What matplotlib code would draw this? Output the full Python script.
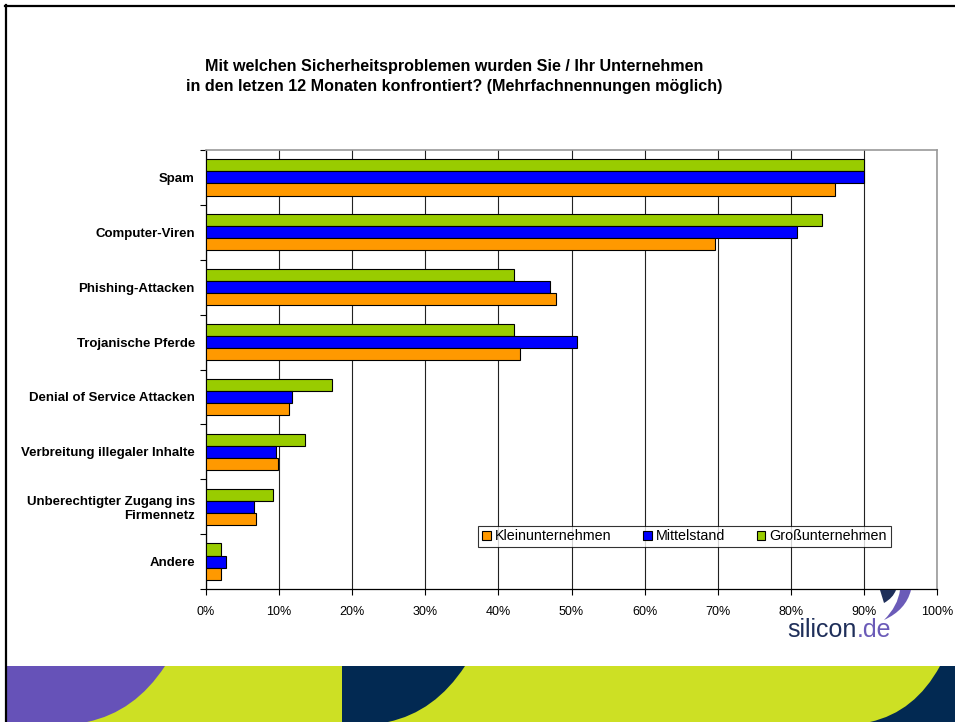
import matplotlib.pyplot as plt
import numpy as np
from matplotlib.path import Path
from matplotlib.patches import PathPatch, Rectangle
from matplotlib.lines import Line2D

plt.rcParams['font.family'] = ['Liberation Sans', 'DejaVu Sans']

# data (share of respondents)
categories = ["Spam", "Computer-Viren", "Phishing-Attacken", "Trojanische Pferde",
              "Denial of Service Attacken", "Verbreitung illegaler Inhalte",
              "Unberechtigter Zugang ins\nFirmennetz", "Andere"]
klein = [0.86, 0.696, 0.479, 0.43, 0.113, 0.099, 0.069, 0.02]
mittel = [0.90, 0.809, 0.470, 0.507, 0.118, 0.096, 0.065, 0.027]
gross = [0.90, 0.843, 0.421, 0.421, 0.173, 0.136, 0.091, 0.02]
series_names = ["Kleinunternehmen", "Mittelstand", "Großunternehmen"]
series_colors = ["#FF9900", "#0000FF", "#99CC00"]
xticks = np.arange(0, 1.01, 0.1)

W, H = 955, 722
fig = plt.figure(figsize=(W / 100, H / 100), dpi=100)
fig.patch.set_facecolor("white")


def fx(x):
    return x / W


def fy(y):
    return 1 - y / H


ax = fig.add_axes([fx(206), fy(589), fx(937) - fx(206), fy(150) - fy(589)])

y = np.arange(len(categories))
bh = 0.22
for vals, off, col in [(gross, -bh, series_colors[2]), (mittel, 0, series_colors[1]),
                       (klein, bh, series_colors[0])]:
    ax.barh(y + off, vals, height=bh, color=col, edgecolor="black", linewidth=0.8, zorder=3)

ax.set_xlim(0, 1)
ax.set_ylim(len(categories) - 0.5, -0.5)
ax.set_xticks(xticks)
ax.set_xticklabels([f"{int(round(t * 100))}%" for t in xticks], fontsize=9)
ax.tick_params(axis="x", direction="out", length=4, width=0.8, pad=8)
ax.xaxis.grid(True, color="#222222", linewidth=0.8, zorder=0)

# ticks at the category boundaries, labels at the centres
ax.set_yticks(np.arange(-0.5, len(categories), 1.0))
ax.set_yticklabels([])
ax.tick_params(axis="y", which="major", direction="out", length=4, width=0.8)
ax.set_yticks(y, minor=True)
ax.set_yticklabels(categories, minor=True, fontsize=9.5, fontweight="bold", ha="right")
ax.tick_params(axis="y", which="minor", length=0, pad=8)

for s in ["top", "right"]:
    ax.spines[s].set_color("#999999")
    ax.spines[s].set_linewidth(1.2)
ax.spines["left"].set_linewidth(0.9)
ax.spines["bottom"].set_linewidth(0.9)

handles = [Rectangle((0, 0), 1, 1, facecolor=c, edgecolor="black", linewidth=0.8)
           for c in series_colors]
leg = ax.legend(handles, series_names, ncol=3, loc="center",
                bbox_to_anchor=(fx(684.5), fy(536.5)), bbox_transform=fig.transFigure,
                fontsize=10.3, frameon=True, fancybox=False, handlelength=0.6,
                handleheight=0.6, handletextpad=0.3, columnspacing=2.2,
                borderpad=0.25, borderaxespad=0)
leg.get_frame().set_edgecolor("black")
leg.get_frame().set_linewidth(0.8)

fig.text(fx(454), fy(67), "Mit welchen Sicherheitsproblemen wurden Sie / Ihr Unternehmen",
         ha="center", va="center", fontsize=11.6, fontweight="bold")
fig.text(fx(454), fy(87), "in den letzen 12 Monaten konfrontiert? (Mehrfachnennungen möglich)",
         ha="center", va="center", fontsize=11.6, fontweight="bold")


def fig_patch(verts, codes, color, z=0):
    v = [(fx(a), fy(b)) for a, b in verts]
    fig.patches.append(PathPatch(Path(v, codes), facecolor=color, edgecolor="none",
                                 transform=fig.transFigure, figure=fig, zorder=z))


lime, purple, navy = "#cde024", "#6652b8", "#022952"
logo_navy, logo_purple = "#1f2f5a", "#6b5bb8"

# logo swoosh and text
C4 = Path.CURVE3
fig_patch([(880, 590), (896, 590), (893, 598), (884, 603), (880, 590)],
          [Path.MOVETO, Path.LINETO, C4, C4, Path.CLOSEPOLY], logo_navy)
fig_patch([(900, 590), (911, 590), (906, 610), (884, 620), (898, 606), (900, 590)],
          [Path.MOVETO, Path.LINETO, C4, C4, C4, C4], logo_purple)
t = fig.text(fx(787), fy(637), "silicon", ha="left", va="baseline", fontsize=18,
             color=logo_navy)
fig.add_artist(plt.Annotation(".de", xy=(1, 0), xycoords=t, va="bottom", ha="left",
                              fontsize=18, color=logo_purple))

# decorative band at the bottom
fig_patch([(7, 666), (955, 666), (955, 722), (7, 722), (7, 666)],
          [Path.MOVETO, Path.LINETO, Path.LINETO, Path.LINETO, Path.CLOSEPOLY], lime)
fig_patch([(7, 666), (165, 666), (135, 712), (87, 722), (7, 722), (7, 666)],
          [Path.MOVETO, Path.LINETO, C4, C4, Path.LINETO, Path.CLOSEPOLY], purple)
fig_patch([(342, 666), (465, 666), (435, 712), (388, 722), (342, 722), (342, 666)],
          [Path.MOVETO, Path.LINETO, C4, C4, Path.LINETO, Path.CLOSEPOLY], navy)
fig_patch([(940, 666), (955, 666), (955, 722), (870, 722), (915, 712), (940, 666)],
          [Path.MOVETO, Path.LINETO, Path.LINETO, Path.LINETO, C4, C4], navy)

# slide border
fig.lines.append(Line2D([fx(5), 1], [fy(6), fy(6)], color="black", linewidth=1.6,
                        transform=fig.transFigure))
fig.lines.append(Line2D([fx(6), fx(6)], [fy(5), 0], color="black", linewidth=1.6,
                        transform=fig.transFigure))

fig.savefig("out.png", dpi=100)
